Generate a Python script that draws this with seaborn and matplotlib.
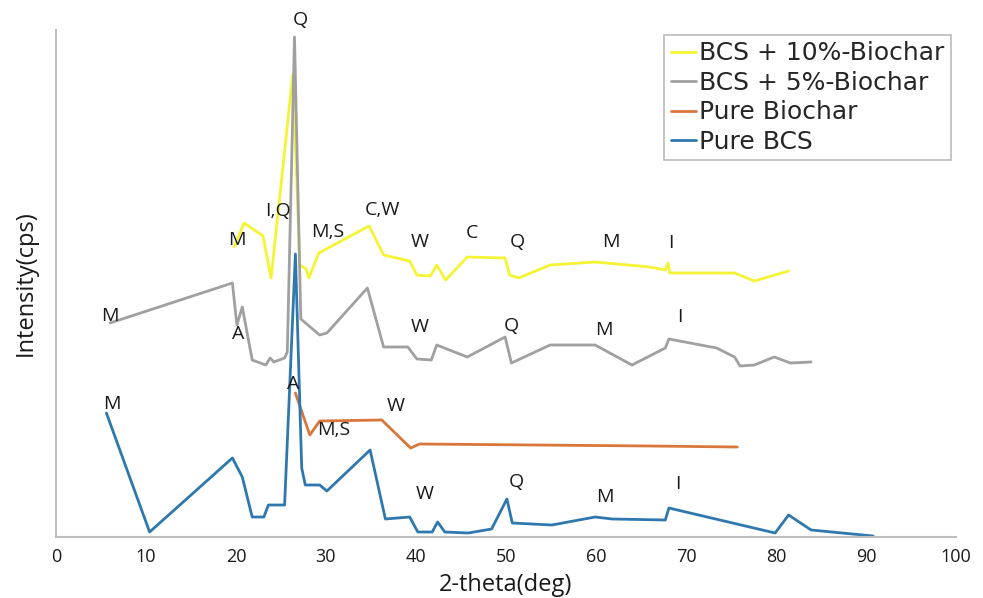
import matplotlib
matplotlib.use("Agg")
import matplotlib.pyplot as plt
import seaborn as sns
import pandas as pd

# ---- data (2-theta in degrees, intensity in arbitrary cps units) ----
bcs_x = [5.6, 10.4, 19.6, 20.7, 21.8, 23.1, 23.6, 25.4, 26.6, 27.3, 27.7, 29.3, 30.1,
         34.9, 36.6, 39.3, 40.2, 41.8, 42.4, 43.2, 45.8, 48.4, 50.1, 50.7, 55.1, 59.9,
         61.8, 67.7, 68.1, 79.9, 81.4, 83.9, 90.8]
bcs_y = [124, 5, 79, 60, 20, 20, 32, 32, 283, 69, 52, 52, 46,
         87, 18, 20, 5, 5, 15, 5, 4, 8, 38, 14, 12, 20,
         18, 17, 29, 4, 22, 7, 1]

biochar_x = [26.6, 28.2, 29.3, 36.2, 39.4, 40.4, 66.0, 75.7]
biochar_y = [144, 102, 116, 117, 89, 93, 91, 90]

bcs5_x = [6.0, 19.6, 20.1, 20.7, 21.8, 23.3, 23.8, 24.2, 25.4, 25.7, 26.5, 27.2, 29.3, 30.1,
          34.6, 36.4, 39.1, 40.1, 41.7, 42.3, 45.7, 49.9, 50.6, 54.9, 59.9, 64.0,
          67.7, 68.1, 73.4, 75.4, 76.0, 77.6, 79.8, 81.6, 83.9]
bcs5_y = [214, 254, 212, 230, 177, 172, 179, 175, 179, 185, 500, 218, 202, 204,
          249, 190, 190, 178, 177, 192, 180, 200, 174, 192, 192, 172,
          189, 198, 189, 180, 171, 172, 180, 174, 175]

bcs10_x = [19.8, 20.9, 23.0, 23.9, 26.3, 27.1, 27.8, 28.1, 29.2, 34.8, 36.4, 39.3, 40.1,
           41.6, 42.3, 43.3, 45.7, 49.9, 50.4, 51.4, 54.9, 59.9, 66.0, 67.7, 68.0,
           68.2, 75.4, 77.6, 81.4]
bcs10_y = [290, 314, 301, 259, 462, 272, 268, 259, 284, 311, 282, 276, 262,
           261, 272, 257, 280, 279, 262, 259, 272, 275, 270, 267, 274,
           264, 264, 256, 266]

series_names = ["BCS + 10%-Biochar", "BCS + 5%-Biochar", "Pure Biochar", "Pure BCS"]

# phase annotations: (text, x, y)
ann_text = ["Q", "M", "I,Q", "M,S", "C,W", "W", "C", "Q", "M", "I",
            "M", "A", "W", "Q", "M", "I",
            "A", "M,S", "W",
            "M", "W", "Q", "M", "I"]
ann_x = [27.2, 20.1, 24.7, 30.2, 36.3, 40.4, 46.2, 51.3, 61.7, 68.3,
         6.0, 20.2, 40.4, 50.6, 60.9, 69.3,
         26.3, 30.8, 37.7,
         6.2, 41.0, 51.1, 61.0, 69.1]
ann_y = [517, 297, 326, 305, 327, 295, 304, 295, 295, 294,
         221, 203, 210, 211, 207, 220,
         153, 107, 131,
         133, 43, 55, 40, 53]

xticks = [0, 10, 20, 30, 40, 50, 60, 70, 80, 90, 100]

colors = {"BCS + 10%-Biochar": "#f4f434",
          "BCS + 5%-Biochar": "#a0a0a0",
          "Pure Biochar": "#d9763a",
          "Pure BCS": "#2f78ae"}

frames = {
    "BCS + 10%-Biochar": pd.DataFrame({"x": bcs10_x, "y": bcs10_y}),
    "BCS + 5%-Biochar": pd.DataFrame({"x": bcs5_x, "y": bcs5_y}),
    "Pure Biochar": pd.DataFrame({"x": biochar_x, "y": biochar_y}),
    "Pure BCS": pd.DataFrame({"x": bcs_x, "y": bcs_y}),
}

sns.set_style("white")
plt.rcParams["font.family"] = ["Open Sans", "DejaVu Sans"]

fig = plt.figure(figsize=(9.83, 5.98), dpi=100)
ax = fig.add_axes([56 / 983, 61 / 598, 900 / 983, 507 / 598])

handles = {}
for name in ["BCS + 10%-Biochar", "BCS + 5%-Biochar", "Pure Biochar", "Pure BCS"]:
    sns.lineplot(data=frames[name], x="x", y="y", ax=ax, sort=False,
                 color=colors[name], linewidth=2.0, label=name, legend=False)
    handles[name] = ax.lines[-1]

ax.set_xlim(0, 100)
ax.set_ylim(0, 507)
ax.set_xticks(xticks)
ax.set_yticks([])
for s in ["top", "right"]:
    ax.spines[s].set_visible(False)
for s in ["left", "bottom"]:
    ax.spines[s].set_color("#bfbfbf")
    ax.spines[s].set_linewidth(1.5)
ax.tick_params(axis="x", direction="in", length=5, width=1, color="#bfbfbf",
               labelsize=13, pad=8, labelcolor="#1a1a1a")

ax.set_xlabel("2-theta(deg)", fontsize=17, color="#1a1a1a", labelpad=5)
ax.set_ylabel("Intensity(cps)", fontsize=17, color="#1a1a1a", labelpad=13)

for t, x, y in zip(ann_text, ann_x, ann_y):
    ax.text(x, y, t, ha="center", va="center", fontsize=14, color="#1a1a1a",
            clip_on=False)

leg = ax.legend([handles[n] for n in series_names], series_names,
                loc="upper right", bbox_to_anchor=(951 / 983, 563 / 598),
                bbox_transform=fig.transFigure, frameon=True, fancybox=False,
                handlelength=1.0, handletextpad=0.15,
                labelspacing=0.22, borderpad=0.25, borderaxespad=0,
                prop={"family": "DejaVu Sans", "size": 18})
leg.get_frame().set_edgecolor("#aaaaaa")
leg.get_frame().set_linewidth(1.2)

fig.savefig("out.png", dpi=100)
